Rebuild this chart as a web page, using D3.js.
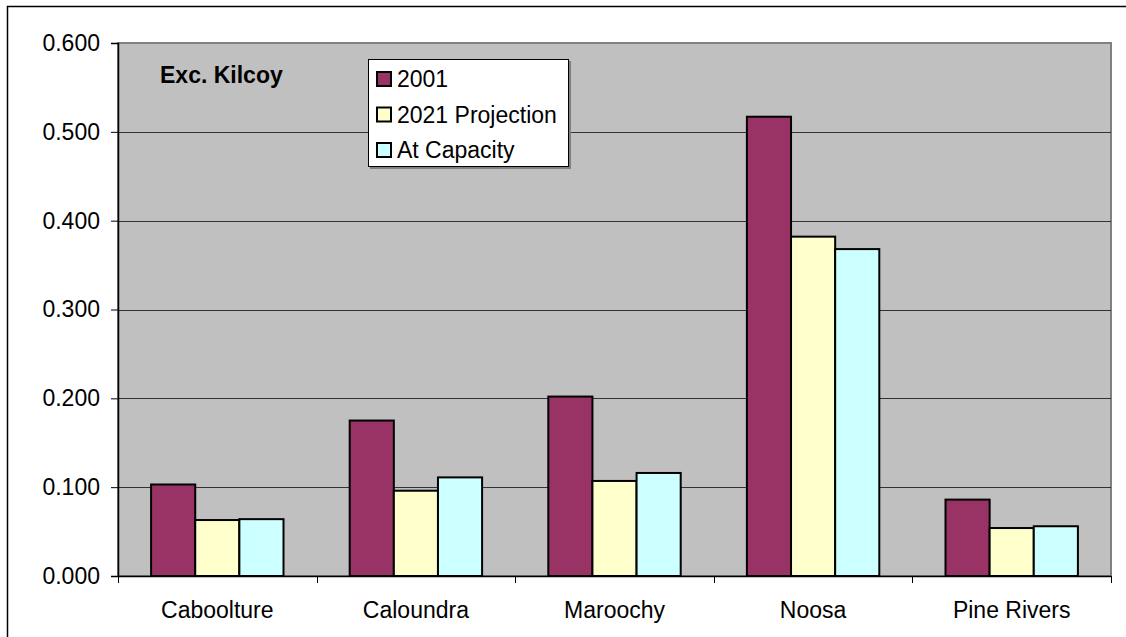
<!DOCTYPE html>
<html>
<head>
<meta charset="utf-8">
<script src="https://cdn.jsdelivr.net/npm/d3@7"></script>
<style>
  html, body { margin: 0; padding: 0; background: #fff; }
  svg { display: block; }
  text { font-family: "Liberation Sans", Arial, sans-serif; fill: #000; }
</style>
</head>
<body>
<svg id="chart" width="1126" height="637"></svg>
<script>
const categories = ["Caboolture", "Caloundra", "Maroochy", "Noosa", "Pine Rivers"];
const seriesNames = ["2001", "2021 Projection", "At Capacity"];
const values2001 = [0.103, 0.175, 0.202, 0.517, 0.086];
const values2021 = [0.063, 0.096, 0.107, 0.382, 0.054];
const valuesCapacity = [0.064, 0.111, 0.116, 0.368, 0.056];
const yTicks = [0, 0.1, 0.2, 0.3, 0.4, 0.5, 0.6];
const seriesColors = ["#993366", "#FFFFCC", "#CCFFFF"];
const annotation = "Exc. Kilcoy";

const seriesValues = [values2001, values2021, valuesCapacity];

const svg = d3.select("#chart");
const plot = { left: 118, right: 1111, top: 43, bottom: 576 };
const fontSize = 23;

// chart area border
svg.append("rect")
  .attr("x", 7.5).attr("y", 6.5)
  .attr("width", 1140).attr("height", 650)
  .attr("fill", "#fff").attr("stroke", "#000").attr("stroke-width", 1.5);

const x0 = d3.scaleBand().domain(categories).range([plot.left, plot.right]).paddingInner(0).paddingOuter(0);
const bw = x0.bandwidth();
const barW = bw / 4.5;
const x1 = d3.scaleBand().domain(seriesNames).range([barW * 0.75, barW * 3.75]).padding(0);
const y = d3.scaleLinear().domain([0, 0.6]).range([plot.bottom, plot.top]);

// plot background
svg.append("rect")
  .attr("x", plot.left).attr("y", plot.top)
  .attr("width", plot.right - plot.left).attr("height", plot.bottom - plot.top)
  .attr("fill", "#C0C0C0").attr("stroke", "#808080").attr("stroke-width", 2);

// gridlines
svg.append("g")
  .selectAll("line")
  .data(yTicks.filter(d => d > 0 && d < 0.6))
  .join("line")
  .attr("x1", plot.left).attr("x2", plot.right)
  .attr("y1", d => Math.round(y(d)) + 0.5).attr("y2", d => Math.round(y(d)) + 0.5)
  .attr("stroke", "#333").attr("stroke-width", 1);

// bars
const groups = svg.append("g")
  .selectAll("g")
  .data(categories)
  .join("g")
  .attr("transform", d => `translate(${x0(d)},0)`);

groups.selectAll("rect")
  .data((d, i) => seriesNames.map((s, j) => ({ s, v: seriesValues[j][i], c: seriesColors[j] })))
  .join("rect")
  .attr("x", d => x1(d.s))
  .attr("y", d => y(d.v))
  .attr("width", x1.bandwidth())
  .attr("height", d => y(0) - y(d.v))
  .attr("fill", d => d.c)
  .attr("stroke", "#000")
  .attr("stroke-width", 2);

// y axis
const yAxis = d3.axisLeft(y).tickValues(yTicks).tickFormat(d3.format(".3f")).tickSize(7).tickPadding(11);
const gy = svg.append("g").attr("transform", `translate(${plot.left},0)`).call(yAxis);
gy.select(".domain").attr("stroke", "#000").attr("stroke-width", 1.5);
gy.selectAll(".tick line").attr("stroke", "#000");
gy.selectAll("text").attr("font-size", fontSize).attr("font-family", "'Liberation Sans', Arial, sans-serif").attr("fill", "#000");

// x axis
const xAxis = d3.axisBottom(x0).tickSize(0).tickPadding(0);
const gx = svg.append("g").attr("transform", `translate(0,${plot.bottom})`).call(xAxis);
gx.select(".domain").attr("stroke", "#000").attr("stroke-width", 1.5);
gx.selectAll("text")
  .attr("font-size", fontSize).attr("font-family", "'Liberation Sans', Arial, sans-serif").attr("fill", "#000")
  .attr("dy", null).attr("y", 42);

// x ticks at band boundaries
const boundaries = categories.map(c => x0(c)).concat([plot.right]);
svg.append("g").selectAll("line")
  .data(boundaries)
  .join("line")
  .attr("x1", d => Math.round(d) + 0.5).attr("x2", d => Math.round(d) + 0.5)
  .attr("y1", plot.bottom).attr("y2", plot.bottom + 7)
  .attr("stroke", "#000").attr("stroke-width", 1);

// annotation
svg.append("text")
  .attr("x", 160).attr("y", 83)
  .attr("font-size", fontSize).attr("font-weight", "bold")
  .text(annotation);

// legend
const lg = svg.append("g").attr("transform", "translate(368,59)");
lg.append("rect").attr("x", 2).attr("y", 2).attr("width", 201).attr("height", 108).attr("fill", "#808080");
lg.append("rect").attr("x", 0.5).attr("y", 0.5).attr("width", 200).attr("height", 107)
  .attr("fill", "#fff").attr("stroke", "#000").attr("stroke-width", 1);
const items = lg.selectAll("g.item")
  .data(seriesNames)
  .join("g")
  .attr("class", "item")
  .attr("transform", (d, i) => `translate(0,${13 + i * 35.5})`);
items.append("rect")
  .attr("x", 9).attr("y", 0).attr("width", 14).attr("height", 14)
  .attr("fill", (d, i) => seriesColors[i]).attr("stroke", "#000").attr("stroke-width", 2);
items.append("text")
  .attr("x", 29).attr("y", 15)
  .attr("font-size", fontSize)
  .text(d => d);
</script>
</body>
</html>
